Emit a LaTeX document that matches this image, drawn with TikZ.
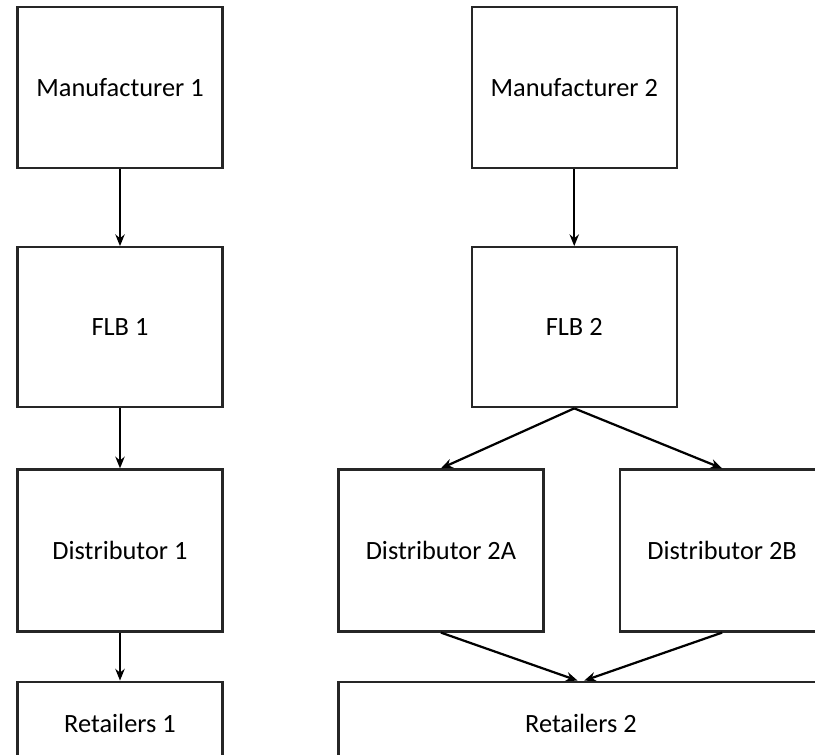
\documentclass[tikz,border=0pt]{standalone}
\usepackage{fontspec}
\setmainfont{Carlito}
\usetikzlibrary{arrows.meta, positioning}

\begin{document}
\begin{tikzpicture}[->,>={Stealth[length=10pt,width=8pt]}, line width=1.9pt, x=0.03cm, y=-0.03cm,
	box/.style={draw=black!85, rectangle, minimum width=6.15cm, minimum height=4.83cm, font=\fontsize{22.5}{27}\selectfont}]

		\useasboundingbox (0,0) rectangle (815,754);
		\clip (0,0) rectangle (815,754);

		% Chain 1
		\node[box] (man1) at (120,87.5) {Manufacturer 1};
		\node[box, minimum height=4.8cm, below=2.31cm of man1] (flb1) {FLB 1};
		\node[box, minimum height=4.86cm, below=1.8cm of flb1] (dist1) {Distributor 1};
		\node[box, minimum height=2.52cm, below=1.44cm of dist1] (ret1) {Retailers 1};

		% Chain 2
		\node[box, right=7.41cm of man1] (man2) {Manufacturer 2};
		\node[box, minimum height=4.8cm, below=2.31cm of man2] (flb2) {FLB 2};

		% Distributors 2A and 2B
		\node[box, minimum height=4.86cm, below=1.8cm of flb2, xshift=-4cm] (dist2a) {Distributor 2A};
		\node[box, minimum height=4.86cm, right=2.22cm of dist2a] (dist2b) {Distributor 2B};

		% Retailers 2
		\node[box, minimum width=14.55cm, minimum height=2.52cm, below=1.44cm of dist2a.south west, anchor=north west] (ret2) {Retailers 2};

		% Connections
		\draw (man1) -- (flb1);
		\draw (flb1) -- (dist1);
		\draw (dist1) -- (ret1);
		\draw (man2) -- (flb2);
		\draw (flb2.south) -- (dist2a.north);
		\draw (flb2.south) -- (dist2b.north);
		\draw (dist2a.south) -- ([xshift=-0.1cm]ret2.north);
		\draw (dist2b.south) -- ([xshift=0.1cm]ret2.north);

	\end{tikzpicture}
\end{document}
